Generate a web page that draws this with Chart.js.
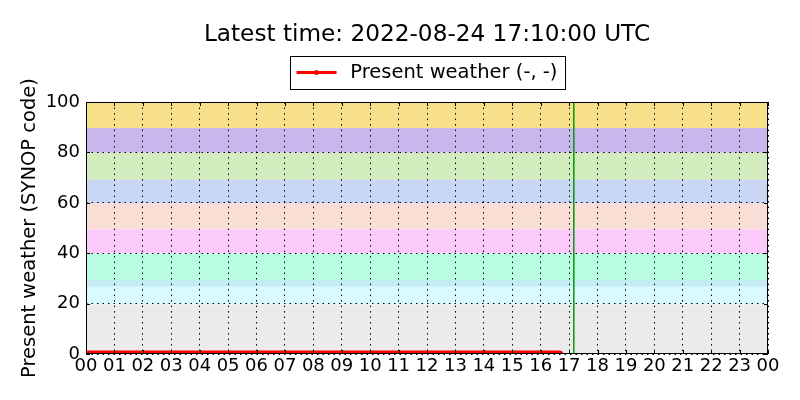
<!DOCTYPE html>
<html><head><meta charset="utf-8">
<script src="https://cdn.jsdelivr.net/npm/chart.js@4"></script>
<style>html,body{margin:0;padding:0;background:#fff}</style>
</head><body>
<canvas id="c" width="800" height="400"></canvas>
<script>
const titleText = "Latest time: 2022-08-24 17:10:00 UTC";
const seriesLabel = "Present weather (-, -)";
const yAxisLabel = "Present weather (SYNOP code)";
const xTickLabels = ["00","01","02","03","04","05","06","07","08","09","10","11","12","13","14","15","16","17","18","19","20","21","22","23","00"];
const yTickStep = 20;
const obsTimes = ["00:00","01:00","02:00","03:00","04:00","05:00","06:00","07:00","08:00","09:00","10:00","11:00","12:00","13:00","14:00","15:00","16:00","16:40"];
const obsValues = [0,0,0,0,0,0,0,0,0,0,0,0,0,0,0,0,0,0];
const latestTime = "17:10";
const bandLower = [0, 19.7, 26.7, 29.4, 40, 49.5, 59.8, 69.3, 80, 89.7];
const bandUpper = [19.7, 26.7, 29.4, 40, 49.5, 59.8, 69.3, 80, 89.7, 100];
const bandColors = ["#ebebeb","#d9fafe","#c4ecf4","#b9fde3","#fbcafa","#f8ded5","#c8d6f4","#d2ecbe","#c8b6ec","#f8df8a"];

function toHours(t){ const p = t.split(":"); return Number(p[0]) + Number(p[1])/60; }

const bandsPlugin = {
  id: 'bands',
  beforeDraw(chart){
    const {ctx, chartArea: a, scales: {y}} = chart;
    ctx.save();
    ctx.beginPath(); ctx.rect(a.left, a.top, a.right - a.left, a.bottom - a.top); ctx.clip();
    for (let i = 0; i < bandLower.length; i++){
      const y1 = y.getPixelForValue(bandUpper[i]);
      const y2 = y.getPixelForValue(bandLower[i]);
      ctx.fillStyle = bandColors[i];
      ctx.fillRect(a.left, y1, a.right - a.left, y2 - y1);
    }
    ctx.restore();
  },
  afterDraw(chart){
    const {ctx, chartArea: a, scales: {x, y}} = chart;
    ctx.save();
    ctx.strokeStyle = '#000'; ctx.lineWidth = 1;
    ctx.beginPath();
    y.ticks.forEach(t => {
      const py = Math.round(y.getPixelForValue(t.value)) + 0.5;
      ctx.moveTo(a.left, py); ctx.lineTo(a.left + 4, py);
      ctx.moveTo(a.right, py); ctx.lineTo(a.right - 4, py);
    });
    x.ticks.forEach(t => {
      const px = Math.round(x.getPixelForValue(t.value)) + 0.5;
      ctx.moveTo(px, a.top); ctx.lineTo(px, a.top + 4);
      ctx.moveTo(px, a.bottom); ctx.lineTo(px, a.bottom - 4);
    });
    ctx.stroke();
    ctx.strokeRect(Math.round(a.left) + 0.5, Math.round(a.top) + 0.5, Math.round(a.right - a.left) - 1, Math.round(a.bottom - a.top) - 1);
    const hb = chart.legend.legendHitBoxes[0];
    if (hb){
      const cy = hb.top + hb.height / 2;
      ctx.strokeRect(Math.round(hb.left - 7) + 0.5, Math.round(cy - 16.5) + 0.5, Math.round(hb.width + 14), 33);
      ctx.strokeStyle = 'red'; ctx.lineWidth = 3;
      ctx.beginPath(); ctx.moveTo(hb.left, cy); ctx.lineTo(hb.left + 40, cy); ctx.stroke();
      ctx.fillStyle = 'red';
      ctx.beginPath(); ctx.arc(hb.left + 20, cy, 2.5, 0, Math.PI * 2); ctx.fill();
    }
    ctx.restore();
  }
};

const latestH = toHours(latestTime);

new Chart(document.getElementById('c'), {
  type: 'line',
  data: {
    datasets: [
      {
        label: seriesLabel,
        data: obsTimes.map((t, i) => ({x: toHours(t), y: obsValues[i]})),
        borderColor: 'red', backgroundColor: 'red', borderWidth: 7, borderCapStyle: 'round',
        pointRadius: 0, clip: 0, tension: 0
      },
      {
        label: 'latest',
        data: [{x: latestH, y: 0}, {x: latestH, y: 100}],
        borderColor: '#009a00', borderWidth: 1.5, pointRadius: 0, clip: 0
      }
    ]
  },
  options: {
    responsive: false, animation: false, devicePixelRatio: 1,
    layout: {padding: {left: 0, right: 32, top: 0, bottom: 0}},
    font: {family: 'DejaVu Sans'},
    scales: {
      x: {
        type: 'linear', min: 0, max: 24,
        afterFit(s){ s.height = 46; },
        ticks: {
          stepSize: 1, autoSkip: false, maxRotation: 0, minRotation: 0,
          color: '#000', font: {family: 'DejaVu Sans', size: 18}, padding: 2,
          callback: (v, i) => xTickLabels[i]
        },
        grid: {color: '#000', lineWidth: 1, drawTicks: false},
        border: {display: false, dash: [1.5, 4]}
      },
      xTop: {
        type: 'linear', position: 'top', min: 0, max: 24,
        afterFit(s){ s.height = 9.75; },
        ticks: {display: false},
        grid: {display: false, drawTicks: false},
        border: {display: false}
      },
      y: {
        min: 0, max: 100,
        afterFit(s){ s.width = 86; },
        ticks: {stepSize: yTickStep, color: '#000', font: {family: 'DejaVu Sans', size: 18}, padding: 6},
        grid: {color: '#000', lineWidth: 1, drawTicks: false},
        border: {display: false, dash: [1.5, 4]},
        title: {display: true, text: yAxisLabel, color: '#000', font: {family: 'DejaVu Sans', size: 19.5}, padding: {top: 18, bottom: 0}}
      }
    },
    plugins: {
      tooltip: {enabled: false},
      title: {
        display: true, fullSize: false, text: titleText, color: '#000',
        font: {family: 'DejaVu Sans', size: 23.2, weight: 'normal', lineHeight: 1.2},
        padding: {top: 21, bottom: 4}
      },
      legend: {
        display: true, fullSize: false,
        labels: {
          color: '#000', font: {family: 'DejaVu Sans', size: 19.5},
          boxWidth: 44, boxHeight: 3, padding: 10,
          generateLabels: (chart) => [{text: seriesLabel, fillStyle: 'rgba(0,0,0,0)', strokeStyle: 'rgba(0,0,0,0)', lineWidth: 0, datasetIndex: 0, hidden: false}]
        }
      }
    }
  },
  plugins: [bandsPlugin]
});
</script>
</body></html>
